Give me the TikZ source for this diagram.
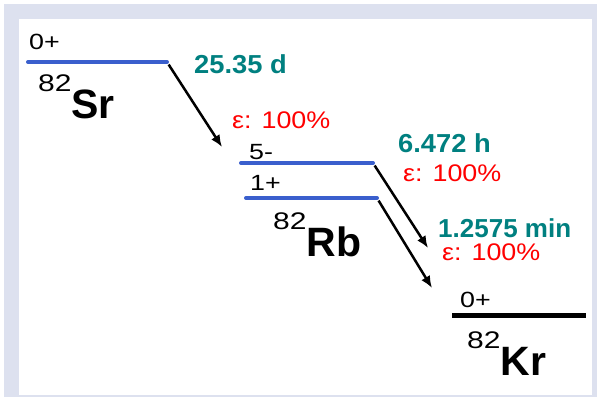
\documentclass[tikz,border=0pt]{standalone}
\usepackage{graphicx}
\usepackage{fontspec}
\setmainfont{Liberation Sans}
\usetikzlibrary{arrows.meta}
\definecolor{framecol}{RGB}{221,225,239}
\definecolor{levelblue}{RGB}{58,95,205}
\definecolor{halfteal}{RGB}{0,128,128}
\newcommand{\widen}[2]{\scalebox{#1}[1]{#2}}
\newcommand{\nuclide}[2]{{\fontsize{24}{24}\selectfont\raisebox{27pt}{\widen{1.25}{#1}}}{\fontsize{41}{41}\selectfont\bfseries #2}}
\tikzset{
	nuclevel/.style={line width=4pt, line cap=round, levelblue},
	spin/.style={anchor=base west, inner sep=0pt, font=\fontsize{22}{22}\selectfont},
	halflife/.style={anchor=base west, inner sep=0pt, text=halfteal, font=\fontsize{26}{26}\selectfont\bfseries},
	branch/.style={anchor=base west, inner sep=0pt, text=red, font=\fontsize{24}{24}\selectfont},
	nucl/.style={anchor=base west, inner sep=0pt},
	decay/.style={line width=2.5pt, shorten <=3pt, -{Latex[length=12pt,width=10pt]}}
}
\begin{document}
\begin{tikzpicture}[x=1pt,y=-1pt]
\useasboundingbox (0,0) rectangle (598,397);
\fill[framecol] (4,4) rectangle (597,397);
\fill[white] (19,19) rectangle (592,395);

\draw[nuclevel] (28,62) -- (167,62) coordinate (sr);
\draw[nuclevel] (241,163) -- (373,163) coordinate (rbm);
\draw[nuclevel] (246,198) -- (377,198) coordinate (rbg);
\draw[line width=5pt, black] (452,315) -- (586,315);

\node[spin] (srspin) at (29,49) {\widen{1.22}{0+}};
\node[spin] (rbmspin) at (249,159) {\widen{1.22}{5-}};
\node[spin] (rbgspin) at (250,190) {\widen{1.22}{1+}};
\node[spin] (krspin) at (460,307) {\widen{1.22}{0+}};

\node[nucl] (srname) at (38,118) {\nuclide{82}{Sr}};
\node[nucl] (rbname) at (273,256) {\nuclide{82}{Rb}};
\node[nucl] (krname) at (467,375) {\nuclide{82}{Kr}};

\node[halflife] (srhl) at (194,73) {\widen{1.05}{25.35 d}};
\node[branch] (srbr) at (232,128) {\widen{1.12}{ε: 100\%}};
\node[halflife] (rbmhl) at (398,152) {\widen{1.05}{6.472 h}};
\node[branch] (rbmbr) at (403,181) {\widen{1.12}{ε: 100\%}};
\node[halflife] (rbghl) at (438,237) {1.2575 min};
\node[branch] (rbgbr) at (442,260) {\widen{1.12}{ε: 100\%}};

\coordinate (srto) at (222,147);
\coordinate (rbmto) at (428,248);
\coordinate (rbgto) at (432,288);
\draw[decay] (sr) -- (srto);
\draw[decay] (rbm) -- (rbmto);
\draw[decay] (rbg) -- (rbgto);

\end{tikzpicture}
\end{document}
